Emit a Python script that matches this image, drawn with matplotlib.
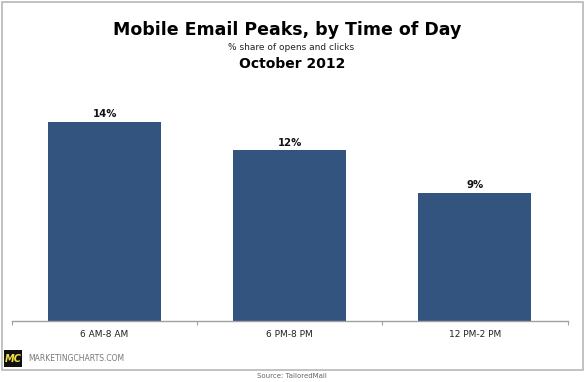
import matplotlib
matplotlib.use("Agg")
import matplotlib.pyplot as plt
from matplotlib.patches import Rectangle

categories = ["6 AM-8 AM", "6 PM-8 PM", "12 PM-2 PM"]
values = [14, 12, 9]
value_labels = ["14%", "12%", "9%"]

W, H = 585, 382
fig = plt.figure(figsize=(W / 100, H / 100), dpi=100)
fig.patch.set_facecolor("white")

def fx(px):
    return px / W

def fy(py):
    return 1 - py / H

# outer frame
fig.add_artist(Rectangle((fx(2), fy(370)), fx(583) - fx(2), fy(2) - fy(370),
                         transform=fig.transFigure, fill=False,
                         edgecolor="#b8b8b8", linewidth=1.2))

# axes placement
ax_left, ax_right = 12, 567.5
ax_top, ax_bottom = 100, 320.7
ax = fig.add_axes([fx(ax_left), fy(ax_bottom), fx(ax_right) - fx(ax_left),
                   fy(ax_top) - fy(ax_bottom)])
px_per_unit = 14.19
ax.set_ylim(0, (ax_bottom - ax_top) / px_per_unit)
ax.set_xlim(-0.5, len(categories) - 0.5)

x = list(range(len(categories)))
bars = ax.bar(x, values, width=0.61, color="#32547e", edgecolor="none", zorder=2)
for xi, v, lab in zip(x, values, value_labels):
    ax.annotate(lab, (xi, v), xytext=(0, 2), textcoords="offset points",
                ha="center", va="bottom", fontsize=7.3, fontweight="bold",
                color="#111111")

for s in ["top", "right", "left"]:
    ax.spines[s].set_visible(False)
ax.spines["bottom"].set_color("#a0a0a0")
ax.spines["bottom"].set_linewidth(1.0)
ax.set_yticks([])
ax.set_xticks([i - 0.5 for i in range(len(categories) + 1)])
ax.set_xticklabels([])
ax.set_xticks(x, minor=True)
ax.set_xticklabels(categories, minor=True, fontsize=6.5, color="#222222")
ax.tick_params(axis="x", which="major", length=3, color="#a0a0a0", direction="out")
ax.tick_params(axis="x", which="minor", length=0, pad=7)

# titles
fig.text(fx(287), fy(30), "Mobile Email Peaks, by Time of Day", ha="center",
         va="center", fontsize=12.5, fontweight="bold", color="#000000")
fig.text(fx(291), fy(48), "% share of opens and clicks", ha="center",
         va="center", fontsize=6.5, color="#222222")
fig.text(fx(292), fy(64), "October 2012", ha="center", va="center",
         fontsize=10, fontweight="bold", color="#000000")

# logo
fig.add_artist(Rectangle((fx(4), fy(367)), fx(22) - fx(4), fy(350) - fy(367),
                         transform=fig.transFigure, facecolor="#111111",
                         edgecolor="none"))
fig.text(fx(13), fy(358.5), "MC", ha="center", va="center", fontsize=7,
         fontweight="bold", fontstyle="italic", color="#f2e24a")
fig.text(fx(28), fy(358.5), "MARKETINGCHARTS.COM", ha="left", va="center",
         fontsize=5.5, color="#777777")
fig.text(fx(292), fy(376.5), "Source: TailoredMail", ha="center", va="center",
         fontsize=5, color="#666666")

fig.savefig("out.png", dpi=100, facecolor="white")
